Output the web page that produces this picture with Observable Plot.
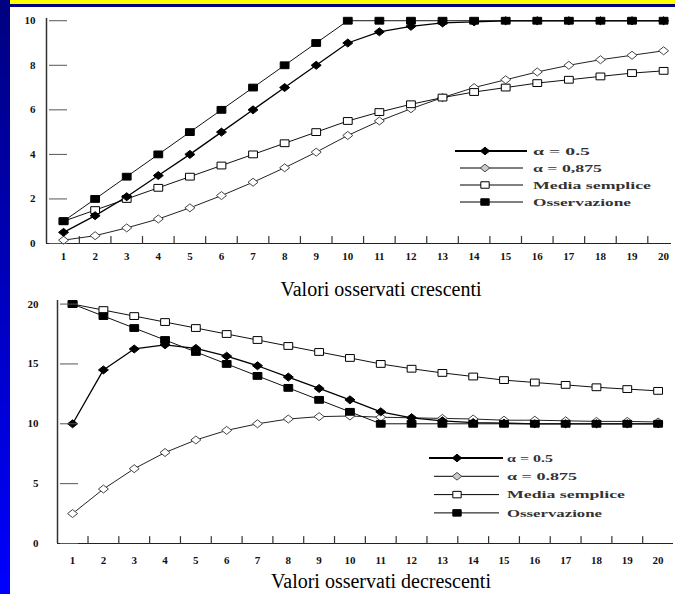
<!DOCTYPE html>
<html><head><meta charset="utf-8">
<script src="https://cdn.jsdelivr.net/npm/d3@7"></script>
<script src="https://cdn.jsdelivr.net/npm/@observablehq/plot@0.6"></script>
<style>
html,body{margin:0;padding:0;background:#fff;}
#page{position:relative;width:675px;height:594px;overflow:hidden;background:#fff;font-family:"Liberation Serif","Times New Roman",serif;}
#topbar{position:absolute;left:0;top:0;width:675px;height:4px;background:#ffff00;z-index:6}
#topline{position:absolute;left:0;top:4px;width:675px;height:3px;background:#000080;z-index:6}
#leftbar{position:absolute;left:0;top:0;width:10px;height:594px;background:linear-gradient(#000080,#0000ff);z-index:7}
#chart1{position:absolute;left:0;top:0;z-index:1}
#chart2{position:absolute;left:0;top:290px;z-index:1}
#legend{position:absolute;left:0;top:0;z-index:4;pointer-events:none}
.caption{position:absolute;left:141px;width:480px;text-align:center;font-size:20px;line-height:20px;color:#000;z-index:3}
</style>
</head><body>
<div id="page">
  <div id="chart1"></div>
  <div id="chart2"></div>
  <div class="caption" style="top:279px">Valori osservati crescenti</div>
  <div class="caption" style="top:571px">Valori osservati decrescenti</div>
  <svg id="legend" width="675" height="594"></svg>
  <div id="topbar"></div><div id="topline"></div><div id="leftbar"></div>
</div>
<script>
// ---------- data ----------
const steps = [1,2,3,4,5,6,7,8,9,10,11,12,13,14,15,16,17,18,19,20];
const seriesKeys = ["a05","a0875","media","obs"];

// increasing observations
const obsUp    = [1,2,3,4,5,6,7,8,9,10,10,10,10,10,10,10,10,10,10,10];
const a05Up    = [0.5,1.25,2.1,3.05,4.0,5.0,6.0,7.0,8.0,9.0,9.5,9.75,9.9,9.95,10,10,10,10,10,10];
const a0875Up  = [0.15,0.35,0.7,1.1,1.6,2.15,2.75,3.4,4.1,4.85,5.5,6.05,6.55,7.0,7.35,7.7,8.0,8.25,8.45,8.65];
const mediaUp  = [1,1.5,2,2.5,3,3.5,4,4.5,5,5.5,5.9,6.25,6.55,6.8,7.0,7.2,7.35,7.5,7.65,7.75];
const yTicksUp = [0,2,4,6,8,10];
const legendUp = ["α = 0.5","α = 0,875","Media semplice","Osservazione"];

// decreasing observations
const obsDown   = [20,19,18,17,16,15,14,13,12,11,10,10,10,10,10,10,10,10,10,10];
const a05Down   = [10,14.5,16.25,16.6,16.3,15.65,14.85,13.9,12.95,12.0,11.0,10.5,10.25,10.1,10.05,10,10,10,10,10];
const a0875Down = [2.5,4.55,6.25,7.6,8.65,9.45,10.0,10.4,10.6,10.65,10.55,10.5,10.45,10.4,10.3,10.3,10.25,10.2,10.2,10.15];
const mediaDown = [20,19.5,19,18.5,18,17.5,17,16.5,16,15.5,15.0,14.6,14.25,13.95,13.65,13.45,13.25,13.05,12.9,12.75];
const yTicksDown = [0,5,10,15,20];
const legendDown = ["α = 0.5","α = 0.875","Media semplice","Osservazione"];

const halfTicks = [1.5,2.5,3.5,4.5,5.5,6.5,7.5,8.5,9.5,10.5,11.5,12.5,13.5,14.5,15.5,16.5,17.5,18.5,19.5];

// ---------- styles ----------
const symRect = {draw(c, size){ const s = Math.sqrt(size/Math.PI); const w = s*1.1, h = s*0.85;
  c.moveTo(-w,-h); c.lineTo(w,-h); c.lineTo(w,h); c.lineTo(-w,h); c.closePath(); }};
const symDiamond = {draw(c, size){ const s = Math.sqrt(size/Math.PI); const w = s*1.25, h = s*1.0;
  c.moveTo(0,-h); c.lineTo(w,0); c.lineTo(0,h); c.lineTo(-w,0); c.closePath(); }};
const tickUp = {draw(c, l){ c.moveTo(0,0); c.lineTo(0,-l); }};
const styles = {
  a0875: {line:"#222", lw:1,   sym:symDiamond, fill:"#fff", stroke:"#444"},
  media: {line:"#111", lw:1,   sym:symRect,    fill:"#fff", stroke:"#000"},
  a05:   {line:"#000", lw:1.3, sym:symDiamond, fill:"#000", stroke:"#000"},
  obs:   {line:"#111", lw:1,   sym:symRect,    fill:"#000", stroke:"#000"}
};
const drawOrder = ["a0875","media","a05","obs"];

function rows(valuesByKey){
  const out = [];
  for (const k of seriesKeys) valuesByKey[k].forEach((v,i)=>out.push({x:steps[i], y:v, s:k}));
  return out;
}

function makeChart({data, height, mt, mb, ml, mr, xDomain, yDomain, yTicks, yPad, xPad}){
  const marks = [];
  marks.push(Plot.ruleX([xDomain[0]], {stroke:"#333", strokeWidth:1.5}));
  marks.push(Plot.ruleY([0], {stroke:"#222", strokeWidth:1.2}));
  marks.push(Plot.vector(halfTicks, {x:d=>d, frameAnchor:"bottom", length:7, anchor:"start", shape:tickUp, stroke:"#333", strokeWidth:1.2}));
  for (const k of drawOrder){
    const st = styles[k];
    const d = data.filter(r=>r.s===k);
    marks.push(Plot.line(d, {x:"x", y:"y", stroke:st.line, strokeWidth:st.lw}));
  }
  for (const k of drawOrder){
    const st = styles[k];
    const d = data.filter(r=>r.s===k);
    marks.push(Plot.dot(d, {x:"x", y:"y", r:4, symbol:st.sym, fill:st.fill, stroke:st.stroke, strokeWidth:1}));
  }
  marks.push(Plot.axisY({ticks:yTicks, tickSize:0, tickPadding:yPad, label:null, tickFormat:d=>String(d)}));
  marks.push(Plot.axisY({ticks:yTicks, tickSize:-18, dx:3, label:null, tickFormat:()=>"", stroke:"#555"}));
  marks.push(Plot.axisX({ticks:steps, tickSize:0, tickPadding:xPad, label:null, tickFormat:d=>String(d)}));
  return Plot.plot({
    width:675, height, marginTop:mt, marginBottom:mb, marginLeft:ml, marginRight:mr,
    x:{type:"linear", domain:xDomain}, y:{type:"linear", domain:yDomain},
    style:{fontFamily:"'Liberation Serif','Times New Roman',serif", fontSize:"11px", fontWeight:"bold", color:"#111", background:"transparent", overflow:"visible"},
    marks
  });
}

document.getElementById("chart1").append(makeChart({
  data: rows({obs:obsUp, a05:a05Up, a0875:a0875Up, media:mediaUp}),
  height:270, mt:18, mb:27, ml:46, mr:4, xDomain:[0.46,20.25], yDomain:[0,10.1], yTicks:yTicksUp, yPad:11, xPad:9
}));
document.getElementById("chart2").append(makeChart({
  data: rows({obs:obsDown, a05:a05Down, a0875:a0875Down, media:mediaDown}),
  height:280, mt:10, mb:27, ml:57, mr:2, xDomain:[0.51,20.5], yDomain:[0,20.3], yTicks:yTicksDown, yPad:19, xPad:13
}));

// ---------- legends ----------
const svg = d3.select("#legend");
function symPath(sym, r){ const p = d3.path(); sym.draw(p, Math.PI*r*r); return p.toString(); }
function legend(labels, lengths, {x1, x2, mx, tx, y0, dy}){
  const keys = ["a05","a0875","media","obs"];
  keys.forEach((k,i)=>{
    const st = styles[k], y = y0 + i*dy;
    const thick = k==="a05";
    svg.append("line").attr("x1", thick? x1-5 : x1).attr("x2", thick? x2+4 : x2)
      .attr("y1", y).attr("y2", y).attr("stroke", "#000").attr("stroke-width", thick? 2 : 1);
    svg.append("path").attr("d", symPath(st.sym, 3.8)).attr("transform", `translate(${mx},${y})`)
      .attr("fill", k==="a0875" ? "#ccc" : st.fill).attr("stroke", st.stroke).attr("stroke-width", 1);
    svg.append("text").attr("x", tx).attr("y", y).attr("dy", "0.35em")
      .attr("font-family", "'Liberation Serif','Times New Roman',serif").attr("font-size", 11).attr("font-weight", "bold")
      .attr("fill", "#333").attr("textLength", lengths[i]).attr("lengthAdjust", "spacingAndGlyphs").text(labels[i]);
  });
}
legend(legendUp, [57,69,118,98], {x1:460, x2:523, mx:485, tx:533, y0:151, dy:17});
legend(legendDown, [46,70,118,95], {x1:434, x2:499, mx:457, tx:507, y0:458, dy:18.3});
</script>
</body></html>
